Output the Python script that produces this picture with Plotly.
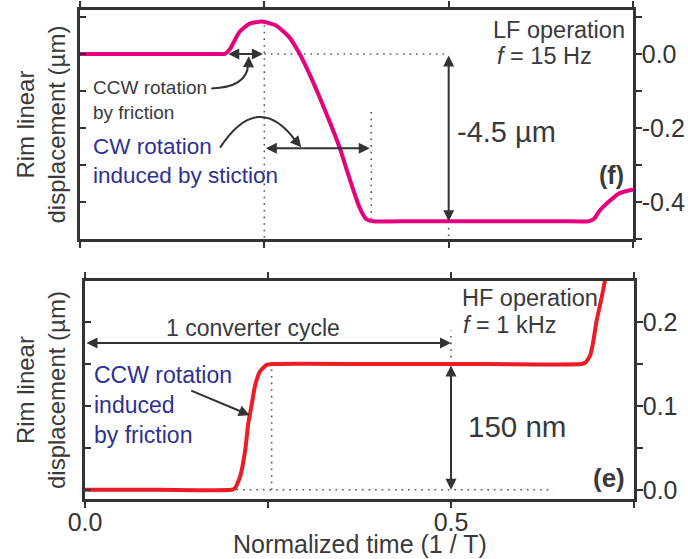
import plotly.graph_objects as go

# ---------------- data ----------------
# (f) LF operation, f = 15 Hz
t_lf = [0.0, 0.10, 0.190, 0.196, 0.203, 0.216, 0.230, 0.247, 0.266, 0.284, 0.298,
        0.311, 0.325, 0.338, 0.352, 0.365, 0.379, 0.388, 0.397, 0.45, 0.55, 0.65,
        0.690, 0.697, 0.705, 0.719, 0.732, 0.75]
d_lf = [0.0, 0.0, 0.0, 0.0, 0.012, 0.059, 0.082, 0.088, 0.077, 0.045, 0.0,
        -0.053, -0.117, -0.180, -0.252, -0.333, -0.414, -0.446, -0.452, -0.452, -0.452, -0.452,
        -0.452, -0.446, -0.423, -0.396, -0.376, -0.366]

# (e) HF operation, f = 1 kHz
t_hf = [0.0, 0.10, 0.200, 0.205, 0.212, 0.219, 0.223, 0.228, 0.232, 0.239, 0.248,
        0.257, 0.40, 0.55, 0.678, 0.684, 0.690, 0.694, 0.699, 0.706, 0.710, 0.716]
d_hf = [0.0, 0.0, 0.0, 0.002, 0.016, 0.048, 0.079, 0.103, 0.123, 0.141, 0.149,
        0.150, 0.150, 0.150, 0.150, 0.152, 0.160, 0.175, 0.202, 0.230, 0.248, 0.275]

x_ticks = [0.0, 0.25, 0.5, 0.75]
x_ticktext = ["0.0", "", "0.5", ""]
y_lf_ticks = [0.1, 0.0, -0.1, -0.2, -0.3, -0.4, -0.5]
y_lf_ticktext = ["", "0.0", "", "-0.2", "", "-0.4", ""]
y_hf_ticks = [0.0, 0.05, 0.1, 0.15, 0.2]
y_hf_ticktext = ["0.0", "", "0.1", "", "0.2"]

# key event levels / times used for guides
lf_peak_t, lf_peak = 0.25, 0.088
lf_start_t = 0.196
lf_end_t = 0.395
lf_plateau = -0.452
hf_start_t = 0.207
hf_rise_t = 0.255
hf_plateau = 0.15
cycle_t = 0.5

# ---------------- style ----------------
W, H = 688, 559
FONT = "Liberation Sans, Arial, Helvetica, sans-serif"
AX = "#333333"
TXT = "#3a3a3a"
BLUE = "#2e3192"
MAGENTA = "#e6007e"
RED = "#ed1c24"

top_x = [80 / W, 633 / W]
top_y = [1 - 239 / H, 1 - 10 / H]
bot_x = [85 / W, 634 / W]
bot_y = [1 - 499 / H, 1 - 281 / H]

fig = go.Figure()
fig.add_trace(go.Scatter(x=t_lf, y=d_lf, mode="lines", xaxis="x", yaxis="y",
                         line=dict(color=MAGENTA, width=4, shape="spline", smoothing=0.5),
                         hoverinfo="skip"))
fig.add_trace(go.Scatter(x=t_hf, y=d_hf, mode="lines", xaxis="x2", yaxis="y2",
                         line=dict(color=RED, width=4, shape="spline", smoothing=0.5),
                         hoverinfo="skip"))
# invisible traces so the inner-tick left axes are drawn
fig.add_trace(go.Scatter(x=t_lf, y=d_lf, mode="lines", xaxis="x", yaxis="y3",
                         line=dict(width=0), opacity=0, hoverinfo="skip"))
fig.add_trace(go.Scatter(x=t_hf, y=d_hf, mode="lines", xaxis="x2", yaxis="y4",
                         line=dict(width=0), opacity=0, hoverinfo="skip"))

axis_common = dict(showline=True, linecolor=AX, linewidth=2.5, showgrid=False,
                   zeroline=False, ticks="outside", ticklen=6, tickwidth=2,
                   tickcolor=AX, automargin=False,
                   tickfont=dict(family=FONT, size=25, color=AX))

y_lf_range = [-0.5, 0.119]
y_hf_range = [-0.011, 0.249]

fig.update_layout(
    width=W, height=H, margin=dict(l=0, r=0, t=0, b=0, pad=0, autoexpand=False),
    paper_bgcolor="white", plot_bgcolor="white", showlegend=False,
    font=dict(family=FONT, color=TXT),
    xaxis=dict(domain=top_x, anchor="y", range=[0, 0.75], tickmode="array",
               tickvals=x_ticks, ticktext=x_ticktext, showticklabels=False,
               mirror="ticks", **axis_common),
    yaxis=dict(domain=top_y, anchor="x", range=y_lf_range, side="right",
               tickmode="array", tickvals=y_lf_ticks, ticktext=y_lf_ticktext,
               mirror=True, ticklabelstandoff=-5, **axis_common),
    yaxis3=dict(overlaying="y", anchor="x", side="left", range=y_lf_range,
                showline=False, showgrid=False, zeroline=False, ticks="inside",
                ticklen=6, tickwidth=2, tickcolor=AX, tickmode="array",
                tickvals=y_lf_ticks, showticklabels=False, automargin=False),
    xaxis2=dict(domain=bot_x, anchor="y2", range=[0, 0.75], tickmode="array",
                tickvals=x_ticks, ticktext=x_ticktext, mirror="ticks",
                ticklabelstandoff=-7, **axis_common),
    yaxis2=dict(domain=bot_y, anchor="x2", range=y_hf_range, side="right",
                tickmode="array", tickvals=y_hf_ticks, ticktext=y_hf_ticktext,
                mirror=True, ticklabelstandoff=-5, **axis_common),
    yaxis4=dict(overlaying="y2", anchor="x2", side="left", range=y_hf_range,
                showline=False, showgrid=False, zeroline=False, ticks="inside",
                ticklen=6, tickwidth=2, tickcolor=AX, tickmode="array",
                tickvals=y_hf_ticks, showticklabels=False, automargin=False),
)

DOT = dict(color="#555555", width=1.6, dash="1.6px,5px")


def dotted(x0, y0, x1, y1, xr, yr):
    fig.add_shape(type="line", x0=x0, y0=y0, x1=x1, y1=y1, xref=xr, yref=yr,
                  line=DOT, layer="below")


def arrow(x0, y0, x1, y1, xr, yr, double=False, size=1.1):
    fig.add_annotation(x=x1, y=y1, ax=x0, ay=y0, xref=xr, yref=yr, axref=xr, ayref=yr,
                       text="", showarrow=True, arrowhead=2, arrowsize=size,
                       arrowwidth=2, arrowcolor=AX,
                       arrowside="end+start" if double else "end",
                       startarrowhead=2, startarrowsize=size)


def label(x, y, text, xr, yr, size, color=TXT, xanchor="left", bold=False):
    fig.add_annotation(x=x, y=y, xref=xr, yref=yr, text=f"<b>{text}</b>" if bold else text,
                       showarrow=False, xanchor=xanchor, yanchor="middle", align="left",
                       font=dict(family=FONT, size=size, color=color))


# ---------- top panel (f) ----------
dotted(lf_peak_t, 0.0, cycle_t, 0.0, "x", "y")
dotted(lf_peak_t, lf_peak - 0.01, lf_peak_t, -0.5, "x", "y")
dotted(lf_end_t, -0.157, lf_end_t, lf_plateau, "x", "y")
dotted(cycle_t, lf_plateau, cycle_t, -0.5, "x", "y")
arrow(lf_start_t + 0.003, 0.0, lf_peak_t - 0.002, 0.0, "x", "y", double=True)
arrow(lf_peak_t, -0.255, lf_end_t - 0.002, -0.255, "x", "y", double=True)
arrow(cycle_t, 0.0, cycle_t, lf_plateau, "x", "y", double=True)

# curved pointer arrows
fig.add_shape(type="path", xref="x", yref="y",
              path="M 0.178,-0.093 Q 0.226,-0.090 0.228,-0.030",
              line=dict(color=AX, width=2))
arrow(0.2285, -0.035, 0.2290, -0.006, "x", "y")
fig.add_shape(type="path", xref="x", yref="y",
              path="M 0.190,-0.253 Q 0.242,-0.096 0.293,-0.236",
              line=dict(color=AX, width=2))
arrow(0.289, -0.226, 0.300, -0.252, "x", "y")

label(0.015, -0.123, "CCW rotation<br>by friction", "x", "y", 19, TXT)
label(0.015, -0.290, "CW rotation<br>induced by stiction", "x", "y", 22.5, BLUE)
label(0.508, -0.212, "-4.5 µm", "x", "y", 29, TXT)
label(0.558, 0.064, "LF operation", "x", "y", 23.5, TXT)
label(0.563, -0.004, "<i>f</i> = 15 Hz", "x", "y", 23.5, TXT)
label(0.740, -0.328, "(f)", "x", "y", 25, TXT, xanchor="right", bold=True)

# ---------- bottom panel (e) ----------
dotted(hf_start_t, 0.0, 0.64, 0.0, "x2", "y2")
dotted(hf_rise_t, 0.0, hf_rise_t, hf_plateau, "x2", "y2")
dotted(cycle_t, hf_plateau, cycle_t, 0.19, "x2", "y2")
arrow(0.0, 0.175, cycle_t, 0.175, "x2", "y2", double=True)
arrow(cycle_t, hf_plateau, cycle_t, 0.0, "x2", "y2", double=True)
arrow(0.143, 0.119, 0.225, 0.089, "x2", "y2")

label(0.229, 0.193, "1 converter cycle", "x2", "y2", 23, TXT, xanchor="center")
label(0.520, 0.076, "150 nm", "x2", "y2", 29.5, TXT)
label(0.512, 0.229, "HF operation", "x2", "y2", 23.5, TXT)
label(0.514, 0.197, "<i>f</i> = 1 kHz", "x2", "y2", 23.5, TXT)
label(0.010, 0.101, "CCW rotation<br>induced<br>by friction", "x2", "y2", 23, BLUE)
label(0.741, 0.014, "(e)", "x2", "y2", 26, TXT, xanchor="right", bold=True)

# ---------- axis titles ----------
for yc in [(10 + 239) / 2, (281 + 499) / 2]:
    fig.add_annotation(x=41 / W, y=1 - yc / H, xref="paper", yref="paper",
                       text="Rim linear<br>displacement (µm)", showarrow=False,
                       textangle=-90, xanchor="center", yanchor="middle",
                       font=dict(family=FONT, size=24, color=TXT))
fig.add_annotation(x=360 / W, y=1 - 544 / H, xref="paper", yref="paper",
                   text="Normalized time (1 / T)", showarrow=False,
                   xanchor="center", yanchor="middle",
                   font=dict(family=FONT, size=25, color=TXT))

fig.write_html("out.html", config={"displayModeBar": False},
               post_script="document.body.style.margin='0px';"
                           "document.body.style.overflow='hidden';")
